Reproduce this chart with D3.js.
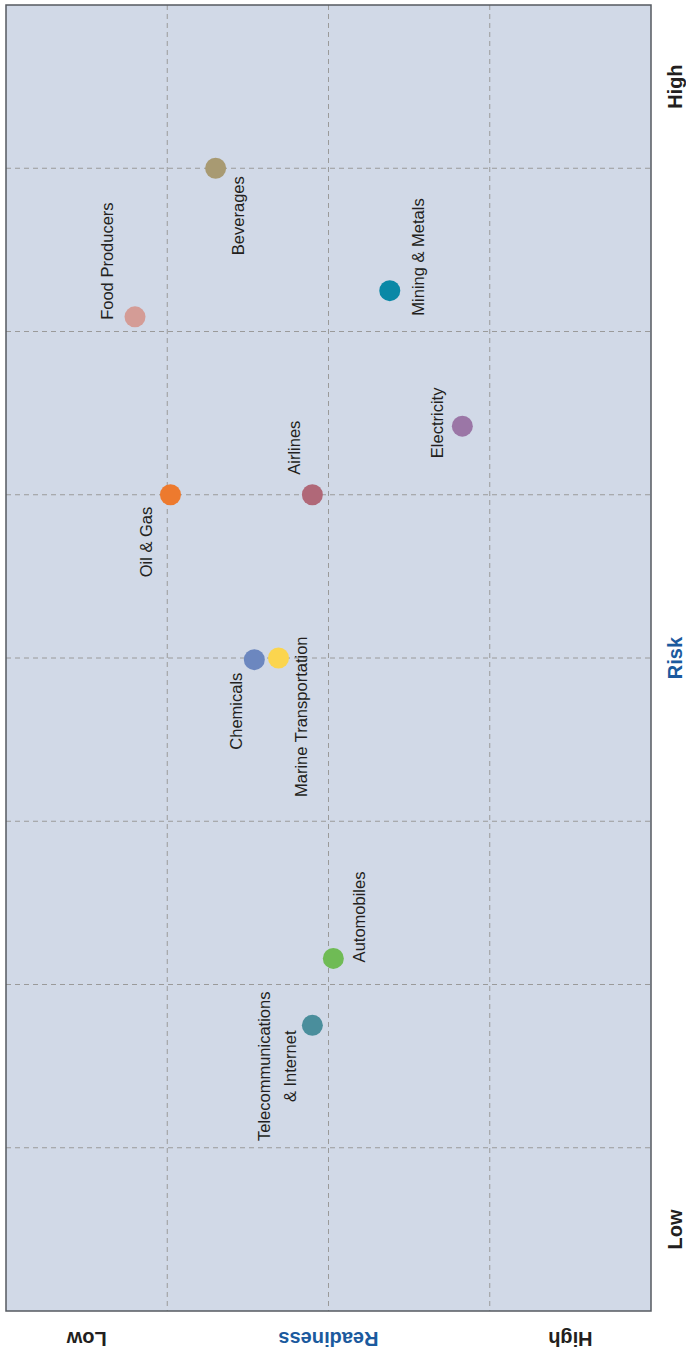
<!DOCTYPE html>
<html>
<head>
<meta charset="utf-8">
<script src="https://cdn.jsdelivr.net/npm/d3@7"></script>
<style>
  body { margin: 0; background: #fff; }
  text { font-family: "Liberation Sans", Arial, sans-serif; }
</style>
</head>
<body>
<div id="chart"></div>
<script>
// sectors plotted on the readiness (horizontal) / risk (vertical) grid
const sectors = ['Beverages', 'Food Producers', 'Mining & Metals', 'Electricity', 'Oil & Gas',
    'Airlines', 'Chemicals', 'Marine Transportation', 'Automobiles', 'Telecommunications & Internet'];
const readiness = [1.30, 0.80, 2.38, 2.83, 1.02, 1.90, 1.54, 1.69, 2.03, 1.90];
const risk = [7.00, 6.09, 6.25, 5.42, 5.00, 5.00, 3.99, 4.00, 2.16, 1.75];
const colors = ['#a89a72', '#d49c96', '#0a88a6', '#9b76a6', '#ed7a2e',
    '#b06878', '#6c87bf', '#fbd54e', '#6fbb55', '#4a8e9c'];

const riskTicks = ['Low', 'Risk', 'High'];
const riskTickPos = [0.5, 4, 7.5];
const readinessTicks = ['Low', 'Readiness', 'High'];
const readinessTickPos = [0.5, 2, 3.5];

// label placement: [dx, dy, anchor]
const labelLayout = [
    [22, 8, 'end'], [-28, 3, 'start'], [28, 25, 'start'], [-25, 32, 'start'], [-24, 12, 'end'],
    [-18, -20, 'start'], [-18, 13, 'end'], [22, 139, 'start'], [26, 4, 'start'], [-48, 41, 'middle']
];
const labelLines = [
    ['Beverages'], ['Food Producers'], ['Mining & Metals'], ['Electricity'], ['Oil & Gas'],
    ['Airlines'], ['Chemicals'], ['Marine Transportation'], ['Automobiles'], ['Telecommunications', '& Internet']
];

const width = 686, height = 1355;
const plot = { left: 6, right: 651, top: 5, bottom: 1311 };

const svg = d3.select('#chart').append('svg')
    .attr('width', width)
    .attr('height', height);

const x = d3.scaleLinear().domain([0, 4]).range([plot.left, plot.right]);
const y = d3.scaleLinear().domain([0, 8]).range([plot.bottom, plot.top]);

svg.append('rect')
    .attr('x', plot.left).attr('y', plot.top)
    .attr('width', plot.right - plot.left).attr('height', plot.bottom - plot.top)
    .attr('fill', '#d1d9e7');

// grid
svg.append('g').selectAll('line')
    .data(d3.range(1, 4))
    .join('line')
    .attr('x1', d => x(d)).attr('x2', d => x(d))
    .attr('y1', plot.top).attr('y2', plot.bottom)
    .attr('stroke', '#9a9a9a').attr('stroke-width', 1).attr('stroke-dasharray', '5,4');
svg.append('g').selectAll('line')
    .data(d3.range(1, 8))
    .join('line')
    .attr('y1', d => y(d)).attr('y2', d => y(d))
    .attr('x1', plot.left).attr('x2', plot.right)
    .attr('stroke', '#9a9a9a').attr('stroke-width', 1).attr('stroke-dasharray', '5,4');

svg.append('rect')
    .attr('x', plot.left).attr('y', plot.top)
    .attr('width', plot.right - plot.left).attr('height', plot.bottom - plot.top)
    .attr('fill', 'none').attr('stroke', '#555a60').attr('stroke-width', 1.5);

// points
svg.append('g').selectAll('circle')
    .data(sectors)
    .join('circle')
    .attr('cx', (_, i) => x(readiness[i]))
    .attr('cy', (_, i) => y(risk[i]))
    .attr('r', 10.5)
    .attr('fill', (_, i) => colors[i]);

// point labels, rotated to read bottom-to-top
const labels = svg.append('g').selectAll('text')
    .data(sectors)
    .join('text')
    .attr('transform', (_, i) => 'translate(' + (x(readiness[i]) + labelLayout[i][0]) + ',' + (y(risk[i]) + labelLayout[i][1]) + ') rotate(-90)')
    .attr('text-anchor', (_, i) => labelLayout[i][2])
    .attr('font-size', 16.5)
    .attr('fill', '#231f20');
labels.each(function (_, i) {
    d3.select(this).selectAll('tspan')
        .data(labelLines[i])
        .join('tspan')
        .attr('x', 0)
        .attr('y', (_, j) => 6 + j * 26)
        .text(t => t);
});

// risk axis labels on the right
svg.append('g').selectAll('text')
    .data(riskTicks)
    .join('text')
    .attr('transform', (_, i) => 'translate(675,' + y(riskTickPos[i]) + ') rotate(-90)')
    .attr('text-anchor', 'middle')
    .attr('dominant-baseline', 'central')
    .attr('font-size', 20)
    .attr('font-weight', 'bold')
    .attr('fill', (_, i) => i === 1 ? '#1b5a9e' : '#231f20')
    .text(d => d);

// readiness axis labels below, upside down
svg.append('g').selectAll('text')
    .data(readinessTicks)
    .join('text')
    .attr('transform', (_, i) => 'translate(' + x(readinessTickPos[i]) + ',1339) rotate(180)')
    .attr('text-anchor', 'middle')
    .attr('dominant-baseline', 'central')
    .attr('font-size', 20)
    .attr('font-weight', 'bold')
    .attr('fill', (_, i) => i === 1 ? '#1b5a9e' : '#231f20')
    .text(d => d);
</script>
</body>
</html>
